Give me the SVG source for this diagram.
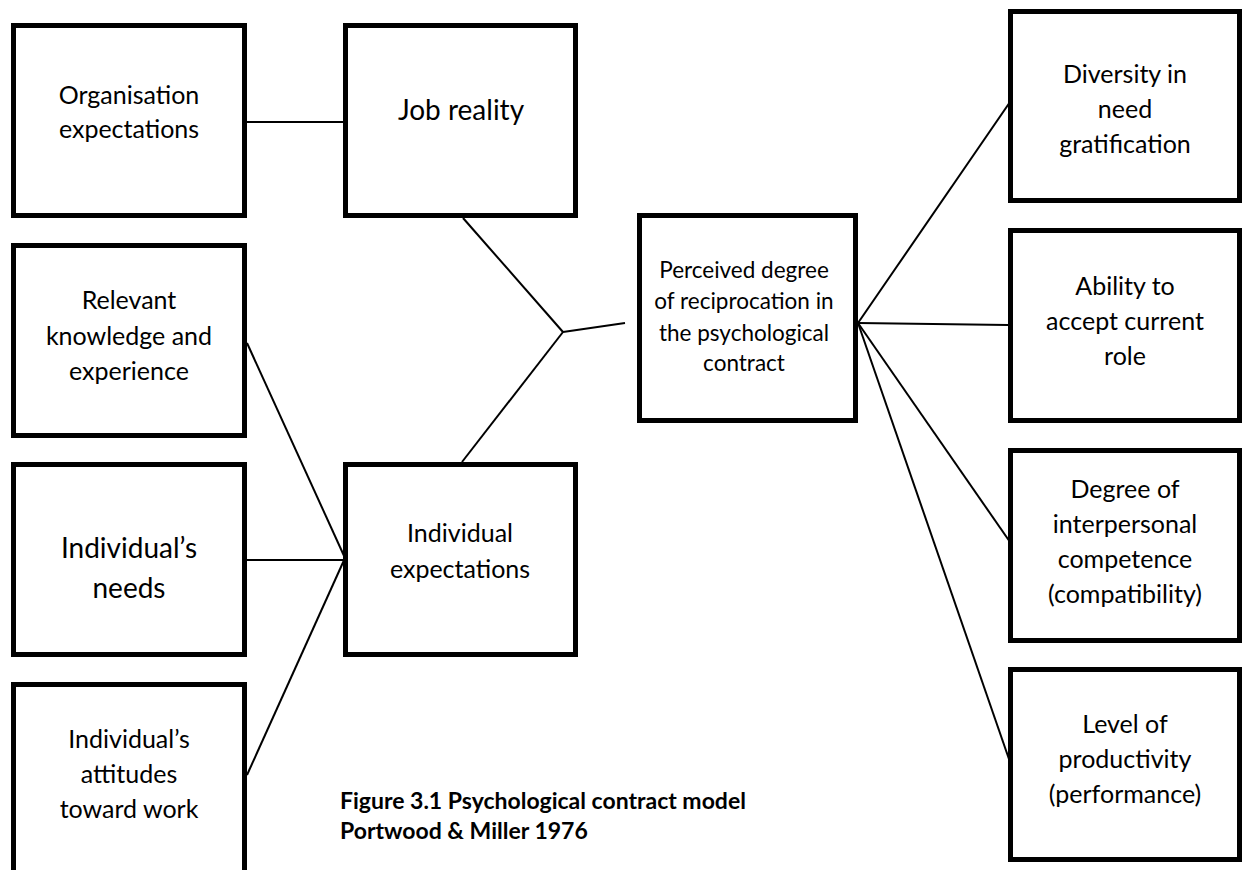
<svg xmlns="http://www.w3.org/2000/svg" width="1246" height="870" viewBox="0 0 1246 870">
<style>
  .box { fill: #fff; stroke: #000; stroke-width: 5; }
  .t { font-family: Lato, "Open Sans", "Liberation Sans", sans-serif; font-size: 25px; fill: #000; text-anchor: middle; }
  .tl { font-size: 28px; }
  .ts { font-size: 22.5px; }
  .cap { font-family: Lato, "Open Sans", "Liberation Sans", sans-serif; font-size: 23px; font-weight: bold; fill: #000; }
  .c { stroke: #000; stroke-width: 2; fill: none; }
</style>
<rect width="1246" height="870" fill="#fff"/>
<g id="connectors">
  <line class="c" x1="247" y1="122" x2="343" y2="122"/>
  <line class="c" x1="463" y1="218" x2="563" y2="332"/>
  <line class="c" x1="462" y1="462" x2="563" y2="332"/>
  <line class="c" x1="563" y1="332" x2="625" y2="323"/>
  <line class="c" x1="247" y1="343" x2="345" y2="558"/>
  <line class="c" x1="247" y1="560" x2="345" y2="560"/>
  <line class="c" x1="247" y1="775" x2="345" y2="558"/>
  <line class="c" x1="858" y1="323" x2="1010" y2="102"/>
  <line class="c" x1="858" y1="323" x2="1008" y2="325"/>
  <line class="c" x1="858" y1="323" x2="1010" y2="542"/>
  <line class="c" x1="858" y1="323" x2="1010" y2="762"/>
</g>
<g id="org-expectations">
  <rect class="box" x="13.5" y="25.5" width="231" height="190"/>
  <text class="t" x="129" y="104">Organisation</text>
  <text class="t" x="129" y="138">expectations</text>
</g>
<g id="job-reality">
  <rect class="box" x="345.5" y="25.5" width="230" height="190"/>
  <text class="t tl" x="461" y="120">Job reality</text>
</g>
<g id="relevant-knowledge">
  <rect class="box" x="13.5" y="245.5" width="231" height="190"/>
  <text class="t" x="129" y="309">Relevant</text>
  <text class="t" x="129" y="345">knowledge and</text>
  <text class="t" x="129" y="380">experience</text>
</g>
<g id="individuals-needs">
  <rect class="box" x="13.5" y="464.5" width="231" height="190"/>
  <text class="t tl" x="129" y="558">Individual’s</text>
  <text class="t tl" x="129" y="598">needs</text>
</g>
<g id="individuals-attitudes">
  <rect class="box" x="13.5" y="684.5" width="231" height="200"/>
  <text class="t" x="129" y="748">Individual’s</text>
  <text class="t" x="129" y="783">attitudes</text>
  <text class="t" x="129" y="818">toward work</text>
</g>
<g id="individual-expectations">
  <rect class="box" x="345.5" y="464.5" width="230" height="190"/>
  <text class="t" x="460" y="542">Individual</text>
  <text class="t" x="460" y="578">expectations</text>
</g>
<g id="perceived-reciprocation">
  <rect class="box" x="639.5" y="215.5" width="216" height="205"/>
  <text class="t ts" x="744" y="278">Perceived degree</text>
  <text class="t ts" x="744" y="309">of reciprocation in</text>
  <text class="t ts" x="744" y="341">the psychological</text>
  <text class="t ts" x="744" y="371">contract</text>
</g>
<g id="diversity">
  <rect class="box" x="1010.5" y="11.5" width="229" height="189"/>
  <text class="t" x="1125" y="83">Diversity in</text>
  <text class="t" x="1125" y="118">need</text>
  <text class="t" x="1125" y="153">gratification</text>
</g>
<g id="ability">
  <rect class="box" x="1010.5" y="230.5" width="229" height="190"/>
  <text class="t" x="1125" y="295">Ability to</text>
  <text class="t" x="1125" y="330">accept current</text>
  <text class="t" x="1125" y="365">role</text>
</g>
<g id="interpersonal">
  <rect class="box" x="1010.5" y="450.5" width="229" height="190"/>
  <text class="t" x="1125" y="498">Degree of</text>
  <text class="t" x="1125" y="533">interpersonal</text>
  <text class="t" x="1125" y="568">competence</text>
  <text class="t" x="1125" y="603">(compatibility)</text>
</g>
<g id="productivity">
  <rect class="box" x="1010.5" y="669.5" width="229" height="190"/>
  <text class="t" x="1125" y="733">Level of</text>
  <text class="t" x="1125" y="768">productivity</text>
  <text class="t" x="1125" y="803">(performance)</text>
</g>
<g id="caption">
  <text class="cap" x="340" y="809">Figure 3.1 Psychological contract model</text>
  <text class="cap" x="340" y="839">Portwood &amp; Miller 1976</text>
</g>
</svg>
